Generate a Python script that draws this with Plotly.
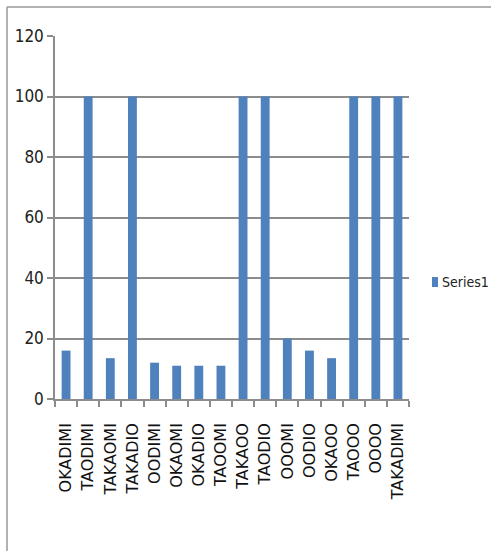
import plotly.graph_objects as go

categories = ["OKADIMI", "TAODIMI", "TAKAOMI", "TAKADIO", "OODIMI", "OKAOMI",
              "OKADIO", "TAOOMI", "TAKAOO", "TAODIO", "OOOMI", "OODIO",
              "OKAOO", "TAOOO", "OOOO", "TAKADIMI"]
series1 = [16, 100, 13.5, 100, 12, 11, 11, 11, 100, 100, 20, 16, 13.5, 100, 100, 100]
y_ticks = [0, 20, 40, 60, 80, 100, 120]
series_name = "Series1"

narrow = "DejaVu Sans Condensed, Liberation Sans Narrow, Arial Narrow, sans-serif"
bar_color = "#4F81BD"

fig = go.Figure()
fig.add_trace(go.Bar(x=categories, y=series1, name=series_name,
                     marker=dict(color=bar_color, line=dict(width=0))))

grey = "#8c8c8c"
fig.update_layout(
    width=491, height=551,
    margin=dict(l=55, r=82, t=36, b=152, autoexpand=False),
    paper_bgcolor="white", plot_bgcolor="white",
    bargap=0.6,
    showlegend=False,
    xaxis=dict(type="category", tickangle=-90, showgrid=False, automargin=False,
               tickmode="array", tickvals=categories, ticktext=categories,
               showline=True, linecolor=grey, linewidth=1.5,
               ticks="outside", tickson="boundaries", ticklen=6, tickcolor=grey, tickwidth=1.5,
               ticklabelstandoff=16,
               tickfont=dict(family="DejaVu Sans, sans-serif", size=16, color="#111")),
    yaxis=dict(range=[0, 120], tickvals=y_ticks, showgrid=True, gridcolor=grey, gridwidth=1.5,
               showline=True, linecolor=grey, linewidth=1.5, automargin=False,
               ticks="outside", ticklen=6, tickcolor=grey, tickwidth=1.5,
               zeroline=False,
               tickfont=dict(family=narrow, size=17, color="#222")),
    shapes=[
        dict(type="line", xref="paper", yref="paper", x0=-0.1356, x1=1.35, y0=1.0799, y1=1.0799,
             line=dict(color="#999999", width=1.5)),
        dict(type="line", xref="paper", yref="paper", x0=-0.1356, x1=-0.1356, y0=1.0799, y1=-0.45,
             line=dict(color="#999999", width=1.5)),
        # legend key
        dict(type="rect", xref="paper", yref="paper", x0=1.065, x1=1.082, y0=0.3085, y1=0.336,
             line=dict(width=0), fillcolor=bar_color),
    ],
    annotations=[
        dict(text=series_name, xref="paper", yref="paper", x=1.087, y=0.322,
             xanchor="left", yanchor="middle", showarrow=False,
             font=dict(family=narrow, size=14, color="#222")),
    ],
)

fig.write_html("out.html")
